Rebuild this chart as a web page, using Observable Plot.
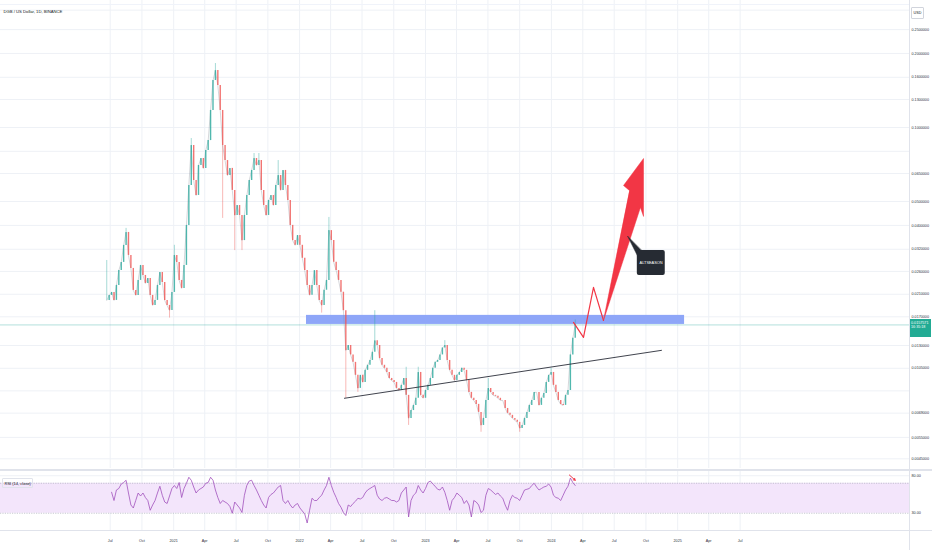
<!DOCTYPE html>
<html>
<head>
<meta charset="utf-8">
<script src="https://cdn.jsdelivr.net/npm/d3@7"></script>
<script src="https://cdn.jsdelivr.net/npm/@observablehq/plot@0.6"></script>
<style>
  body { margin: 0; background: #fff; font-family: "Liberation Sans", Arial, sans-serif; }
  #chart { position: relative; width: 932px; height: 550px; overflow: hidden; background: #fff; }
  #chart svg { position: absolute; left: 0; }
  .tag { position: absolute; font-size: 3.7px; line-height: 1.2; white-space: nowrap; color: #131722; }
  .sep { position: absolute; background: #e0e3eb; }
</style>
</head>
<body>
<div id="chart"></div>
<script>
// DGB/USD, one close per week (starts 2020-06-21)
const startWeek = "2020-06-21";
const closes = [
  0.01982, 0.02077, 0.02136, 0.01982, 0.02281, 0.02625, 0.02829, 0.03317, 0.03745, 0.03020,
  0.02674, 0.02177, 0.02077, 0.02390, 0.02750, 0.02504, 0.02324, 0.02435, 0.02077, 0.01891,
  0.01982, 0.02281, 0.02576, 0.02346, 0.01982, 0.01891, 0.01805, 0.02136, 0.03020, 0.02829,
  0.02390, 0.02218, 0.02750, 0.03998, 0.05812, 0.08450, 0.06090, 0.05294, 0.07008, 0.07483,
  0.06815, 0.08064, 0.08848, 0.1173, 0.1553, 0.1704, 0.1481, 0.1173, 0.0845, 0.0734,
  0.0638, 0.0682, 0.0555, 0.0439, 0.0482, 0.0439, 0.0347, 0.0439, 0.0529, 0.0609,
  0.0669, 0.0748, 0.0701, 0.0734, 0.0555, 0.0482, 0.0439, 0.0505, 0.0529, 0.0482,
  0.0581, 0.0638, 0.0555, 0.0669, 0.0581, 0.0505, 0.0400, 0.0347, 0.0332, 0.0364,
  0.0332, 0.0294, 0.0262, 0.0228, 0.0208, 0.0228, 0.0262, 0.0228, 0.0198, 0.0189,
  0.0218, 0.0239, 0.0381, 0.0347, 0.0283, 0.0262, 0.0239, 0.0214, 0.0180, 0.0124,
  0.0130, 0.0119, 0.0111, 0.00983, 0.00870, 0.00983, 0.00920, 0.0103, 0.0108, 0.0113,
  0.0122, 0.0136, 0.0130, 0.0115, 0.0108, 0.0105, 0.0101, 0.00955, 0.00936, 0.00920,
  0.00870, 0.00853, 0.00895, 0.00955, 0.00815, 0.00657, 0.00707, 0.00742, 0.00793, 0.0101,
  0.00815, 0.00793, 0.00853, 0.00895, 0.00955, 0.0105, 0.0111, 0.0113, 0.0119, 0.0127,
  0.0130, 0.0113, 0.0103, 0.00983, 0.00936, 0.00983, 0.0101, 0.0105, 0.0103, 0.00936,
  0.00838, 0.00793, 0.00777, 0.00749, 0.00695, 0.00615, 0.00657, 0.00777, 0.00870, 0.00838,
  0.00815, 0.00808, 0.00793, 0.00777, 0.00777, 0.00721, 0.00689, 0.00676, 0.00657, 0.00645,
  0.00633, 0.00598, 0.00615, 0.00657, 0.00695, 0.00742, 0.00777, 0.00838, 0.00838, 0.00742,
  0.00793, 0.00830, 0.00920, 0.00983, 0.0101, 0.00895, 0.00838, 0.00777, 0.00749, 0.00742,
  0.00815, 0.00853, 0.0119, 0.0139, 0.01576
];
// long wicks (week index -> extreme price)
const wickWeek  = [0, 8, 26, 28, 35, 45, 48, 53, 56, 61, 63, 71, 89, 92, 99, 104, 111, 124, 125, 129, 140, 155, 158, 171, 184, 194];
const wickPrice = [0.0288, 0.0389, 0.0168, 0.0332, 0.0902, 0.182, 0.0427, 0.0316, 0.0316, 0.0784, 0.0784, 0.0734, 0.0176, 0.0431, 0.00793, 0.00838, 0.0180, 0.0106, 0.00615, 0.0106, 0.0136, 0.00577, 0.00955, 0.00577, 0.0105, 0.0165];

const rsi = [
  null, null, 58, 47, 61, 63, 69, 71, 74, 57,
  41, 37, 47, 57, 53, 57, 51, 47, 34, 41,
  47, 57, 66, 54, 45, 43, 53, 63, 67, 63,
  71, 51, 63, 70, 78, 74, 65, 57, 61, 63,
  65, 70, 71, 78, 74, 61, 51, 43, 47, 45,
  43, 39, 30, 45, 41, 37, 31, 54, 67, 73,
  74, 67, 61, 54, 47, 41, 37, 51, 55, 57,
  61, 65, 67, 47, 43, 47, 41, 37, 41, 43,
  37, 33, 29, 17, 34, 50, 47, 47, 51, 54,
  61, 67, 78, 67, 58, 51, 43, 38, 31, 27,
  41, 39, 43, 46, 50, 49, 51, 57, 61, 63,
  65, 67, 54, 49, 47, 50, 51, 49, 47, 47,
  45, 47, 57, 61, 65, 25, 47, 54, 57, 67,
  61, 57, 63, 71, 73, 69, 66, 62, 61, 65,
  58, 47, 34, 47, 51, 57, 54, 51, 43, 47,
  41, 25, 47, 45, 41, 31, 34, 54, 63, 61,
  58, 55, 57, 53, 50, 41, 34, 47, 54, 51,
  50, 47, 54, 61, 62, 63, 67, 70, 65, 61,
  63, 65, 66, 69, 65, 54, 51, 50, 47, 54,
  61, 66, 77, 71, 67
];

const priceTicks = [0.25, 0.2, 0.16, 0.13, 0.1, 0.08, 0.065, 0.05, 0.04, 0.032, 0.026, 0.021, 0.017, 0.013, 0.0105, 0.0085, 0.0069, 0.0055, 0.0045];
const lastPrice = 0.0157571;

// drawings
const zoneDates = ["2022-01-21", "2025-01-21"];
const zonePrices = [0.01583, 0.01723];
const trendDates = ["2022-05-11", "2024-11-15"];
const trendPrices = [0.00793, 0.01242];
const zigDates = ["2024-03-05", "2024-04-03", "2024-05-02", "2024-05-31"];
const zigPrices = [0.01613, 0.01402, 0.02239, 0.01643];
const arrowDates = ["2024-05-31", "2024-09-15", "2024-09-24", "2024-09-24", "2024-07-28", "2024-08-14"];
const arrowPrices = [0.01643, 0.04732, 0.0435, 0.0748, 0.0581, 0.0555];
const calloutDates = ["2024-09-06", "2024-11-26"];
const calloutPrices = [0.0250, 0.0316];
const pointerDates = ["2024-08-09", "2024-09-07", "2024-09-20"];
const pointerPrices = [0.0361, 0.0300, 0.0314];
const rsiArrowDates = ["2024-02-22", "2024-03-10"];
const rsiArrowValues = [81, 74];

const xDomain = [new Date("2019-08-18"), new Date("2026-11-04")];
const t0 = new Date(startWeek);
const weekDate = i => d3.utcDay.offset(t0, 7 * i);
const D = s => new Date(s);

const up = "#26a69a", down = "#ef5350", red = "#f23645";
const grid = "#eef1f6";
const font = "'Liberation Sans', Arial, sans-serif";

const candles = closes.map((c, i) => ({date: weekDate(i), open: i ? closes[i - 1] : c, close: c}));
const wicks = wickWeek.map((w, j) => ({date: weekDate(w), from: closes[w], to: wickPrice[j]}));
const rsiRows = rsi.map((v, i) => ({date: weekDate(i), value: v})).filter(d => d.value != null);
const quarters = d3.utcMonth.every(3).range(new Date("2020-07-01"), new Date("2025-07-02"));
const quarterFormat = d => d.getUTCMonth() === 0 ? String(d.getUTCFullYear()) : d3.utcFormat("%b")(d);

const pts = (ds, ps) => ds.map((d, i) => ({date: D(d), price: ps[i]}));

const main = Plot.plot({
  width: 932, height: 470,
  marginLeft: 0, marginRight: 23, marginTop: 0, marginBottom: 2,
  style: {fontSize: "3.7px", fontFamily: font, color: "#2a2e39", background: "transparent"},
  x: {type: "utc", domain: xDomain, axis: null},
  y: {type: "log", domain: [0.004110, 0.3283]},
  marks: [
    Plot.gridY([0.3, ...priceTicks], {stroke: grid, strokeOpacity: 1}),
    Plot.gridX(quarters, {stroke: grid, strokeOpacity: 1}),
    Plot.rect([0], {x1: () => D(zoneDates[0]), x2: () => D(zoneDates[1]), y1: () => zonePrices[0], y2: () => zonePrices[1], fill: "#8ea6f8"}),
    Plot.ruleY([lastPrice], {stroke: up, strokeOpacity: 0.35}),
    Plot.ruleX(wicks, {x: "date", y1: "from", y2: "to", stroke: d => d.to > d.from ? up : down, strokeWidth: 0.7, strokeOpacity: 0.6}),
    Plot.line(candles, {x: "date", y: "close", stroke: "#8d8f99", strokeWidth: 0.6, strokeOpacity: 0.6}),
    Plot.ruleX(candles, {x: "date", y1: "open", y2: "close", stroke: d => d.close >= d.open ? up : down, strokeWidth: 1.4, strokeOpacity: 0.8}),
    Plot.line(pts(trendDates, trendPrices), {x: "date", y: "price", stroke: "#2a2e39", strokeWidth: 0.9}),
    Plot.line(pts(zigDates, zigPrices), {x: "date", y: "price", stroke: red, strokeWidth: 1.2}),
    Plot.line(pts(arrowDates, arrowPrices), {x: "date", y: "price", fill: red, stroke: red, strokeWidth: 0.5, curve: "linear-closed"}),
    Plot.line(pts(pointerDates, pointerPrices), {x: "date", y: "price", fill: "#262b33", stroke: "#262b33", strokeWidth: 0.5, curve: "linear-closed"}),
    Plot.rect([0], {x1: () => D(calloutDates[0]), x2: () => D(calloutDates[1]), y1: () => calloutPrices[0], y2: () => calloutPrices[1], fill: "#262b33", rx: 2}),
    Plot.text(["ALTSEASON"], {x: () => d3.utcDay.offset(D(calloutDates[0]), 40), y: () => Math.sqrt(calloutPrices[0] * calloutPrices[1]), fill: "#fff", fontSize: 3.9}),
    Plot.axisY(priceTicks, {anchor: "right", tickSize: 0, tickPadding: 2, tickFormat: d3.format(".7f"), label: null}),
    Plot.text(["DGB / US Dollar, 1D, BINANCE"], {frameAnchor: "top-left", dx: 3, dy: 10, fill: "#131722", fontSize: 4.2})
  ]
});
main.style.top = "0px";

const lower = Plot.plot({
  width: 932, height: 80,
  marginLeft: 0, marginRight: 23, marginTop: 0, marginBottom: 20,
  style: {fontSize: "3.7px", fontFamily: font, color: "#2a2e39", background: "transparent"},
  x: {type: "utc", domain: xDomain},
  y: {domain: [7, 87]},
  marks: [
    Plot.gridX(quarters, {stroke: grid, strokeOpacity: 1}),
    Plot.gridY([80], {stroke: grid, strokeOpacity: 1}),
    Plot.rect([0], {x1: () => xDomain[0], x2: () => xDomain[1], y1: 30, y2: 70, fill: "#f3e5fb"}),
    Plot.ruleY([70, 30], {stroke: "#a3a6b4", strokeDasharray: "1.2,1.2", strokeWidth: 0.6}),
    Plot.line(rsiRows, {x: "date", y: "value", stroke: "#a152bd", strokeWidth: 0.8}),
    Plot.arrow([0], {x1: () => D(rsiArrowDates[0]), x2: () => D(rsiArrowDates[1]), y1: () => rsiArrowValues[0], y2: () => rsiArrowValues[1], stroke: red, strokeWidth: 1, headLength: 3}),
    Plot.axisY([80, 30], {anchor: "right", tickSize: 0, tickPadding: 2, tickFormat: d3.format(".2f"), label: null}),
    Plot.axisX(quarters, {tickSize: 0, tickPadding: 9, tickFormat: quarterFormat, label: null}),
    Plot.text(["RSI (14, close)"], {frameAnchor: "top-left", dx: 4, dy: 12, fill: "#131722", fontSize: 4})
  ]
});
lower.style.top = "470px";

const chart = document.querySelector("#chart");
chart.append(main, lower);

// separators and labels on the price scale
const addDiv = (cls, css, text) => {
  const el = document.createElement("div");
  el.className = cls;
  el.style.cssText = css;
  if (text) el.innerHTML = text;
  chart.append(el);
};
addDiv("sep", "left:909px;top:0;width:1px;height:550px;");
addDiv("sep", "left:0;top:469px;width:932px;height:1.5px;");
addDiv("sep", "left:0;top:530px;width:932px;height:1px;");
addDiv("sep", "left:0;top:4px;width:909px;height:1px;background:#f0f3fa");

const py = main.scale("y").apply(lastPrice);
addDiv("tag", `left:910px;top:${py - 5}px;width:21px;height:18px;background:#22ab94;color:#fff;padding:1.5px 0 0 1px;box-sizing:border-box;`,
  d3.format(".7f")(lastPrice) + "<br>16:35:18");
addDiv("tag", "left:911px;top:7px;width:11px;height:10px;border:0.6px solid #d1d4dc;border-radius:1px;text-align:center;line-height:10px;", "USD");
addDiv("tag", "left:2px;top:478px;width:29px;height:8px;border:0.6px solid #e0e3eb;border-radius:1px;");
</script>
</body>
</html>
